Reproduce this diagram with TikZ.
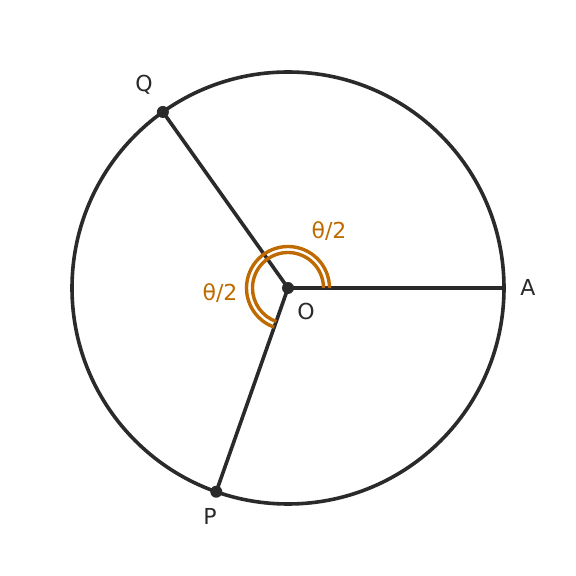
\documentclass[tikz,border=0pt]{standalone}
\usepackage{fontspec}
\setmainfont{DejaVu Sans}
\usetikzlibrary{calc}
\definecolor{inkgrey}{RGB}{42,42,42}
\definecolor{angleorange}{RGB}{190,106,0}
\tikzset{
    dot/.style={circle,fill=inkgrey,inner sep=0pt,minimum size=12pt},
    ptlabel/.style={text=inkgrey,font=\fontsize{22}{24}\selectfont},
    anglabel/.style={text=angleorange,font=\fontsize{22}{24}\selectfont},
    angarc/.style={draw=angleorange,line width=3.4pt}
}
\begin{document}
\begin{tikzpicture}[x=1pt,y=1pt,line width=3.6pt,inkgrey]
        \useasboundingbox (0,0) rectangle (576,576);
        %% circle and points
        \coordinate (O) at (288,288);
        \draw (O) circle (216);
        \coordinate (A) at ($(O)+(0:216)$);
        \node[dot] (Q) at ($(O)+(125.4:216)$) {};
        \node[dot] (P) at ($(O)+(250.6:216)$) {};
        %% radii
        \draw (O) -- (A);
        \draw (O) -- (Q.center);
        \draw (O) -- (P.center);
        %% angle marks
        \draw[angarc] ([shift={(0:35.5)}]O) arc (0:250.6:35.5);
        \draw[angarc] ([shift={(0:41.5)}]O) arc (0:250.6:41.5);
        \node[dot] (Odot) at (O) {};
        %% labels
        \node[ptlabel] (lQ) at (144,491) {Q};
        \node[ptlabel] (lP) at (210,60) {P};
        \node[ptlabel] (lA) at (528,289) {A};
        \node[ptlabel] (lO) at (306,265) {O};
        \node[anglabel] (lt1) at (329,345) {θ/2};
        \node[anglabel] (lt2) at (220,283) {θ/2};
    \end{tikzpicture}
\end{document}
